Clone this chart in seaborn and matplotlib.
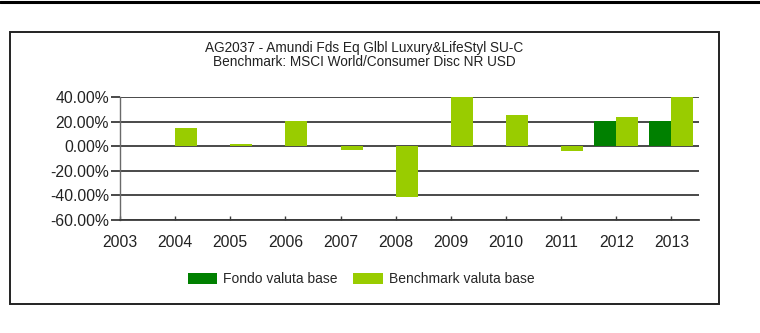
import numpy as np
import pandas as pd
import seaborn as sns
import matplotlib
matplotlib.use("Agg")
import matplotlib.pyplot as plt
from matplotlib.lines import Line2D
from matplotlib.patches import Rectangle

# Annual returns (%) per calendar year
years = ["2003", "2004", "2005", "2006", "2007", "2008",
         "2009", "2010", "2011", "2012", "2013"]
fondo = [np.nan, np.nan, np.nan, np.nan, np.nan, np.nan,
         np.nan, np.nan, np.nan, 20.3, 20.2]
benchmark = [np.nan, 15.0, 1.4, 20.3, -2.9, -41.3,
             39.9, 25.2, -4.3, 24.1, 39.9]

series_names = ["Fondo valuta base", "Benchmark valuta base"]
series_colors = ["#008000", "#99CC00"]
y_ticks = [-60, -40, -20, 0, 20, 40]
title_lines = ["AG2037 - Amundi Fds Eq Glbl Luxury&LifeStyl SU-C",
               "Benchmark: MSCI World/Consumer Disc NR USD"]

rows = []
for name, values in zip(series_names, [fondo, benchmark]):
    for yr, v in zip(years, values):
        if not np.isnan(v):
            rows.append({"anno": yr, "rendimento": v, "serie": name})
df = pd.DataFrame(rows)

sns.set_style("white")
plt.rcParams["font.family"] = ["Liberation Sans", "DejaVu Sans"]

W, H = 760, 333
fig = plt.figure(figsize=(W / 100, H / 100), dpi=100)
fig.patch.set_facecolor("white")

def fx(px):
    return px / W

def fy(py):
    return 1 - py / H

ax = fig.add_axes([fx(120), fy(220), fx(699) - fx(120), fy(97) - fy(220)])

sns.barplot(data=df, x="anno", y="rendimento", hue="serie",
            order=years, hue_order=series_names, palette=series_colors,
            width=0.8, dodge=True, errorbar=None, saturation=1,
            linewidth=0, ax=ax)

ax.set_xlim(0, 10.5)
ax.set_ylim(-60, 40)
ax.set_yticks(y_ticks)
ax.set_yticklabels([f"{v:.2f}%" for v in y_ticks])
ax.set_xlabel("")
ax.set_ylabel("")

ax.set_axisbelow(True)
ax.yaxis.grid(True, color="#3a3a3a", linewidth=1.3)
ax.xaxis.grid(False)
for side in ["top", "right"]:
    ax.spines[side].set_visible(False)
ax.spines["left"].set_color("#6a6a6a")
ax.spines["left"].set_linewidth(1.0)
ax.spines["bottom"].set_color("#3a3a3a")
ax.spines["bottom"].set_linewidth(1.3)

ax.tick_params(axis="y", direction="out", length=6.5, width=1.3,
               color="#3a3a3a", pad=1.5, labelsize=11.3, labelcolor="#222222",
               left=True)
ax.tick_params(axis="x", direction="in", length=3, width=1.0,
               color="#3a3a3a", pad=10.5, labelsize=11.3, labelcolor="#222222",
               bottom=True)

# Legend placed under the plot area
handles, labels = ax.get_legend_handles_labels()
if ax.get_legend() is not None:
    ax.get_legend().remove()
fig.legend(handles, labels, loc="center", ncol=2,
           bbox_to_anchor=(fx(361), fy(279)), frameon=False,
           fontsize=10, handlelength=2.1, handleheight=0.86,
           handletextpad=0.45, columnspacing=1.15, borderpad=0)

# Two-line chart title
fig.text(fx(364), fy(48), title_lines[0], ha="center", va="center",
         fontsize=9.8, color="#222222")
fig.text(fx(364), fy(62), title_lines[1], ha="center", va="center",
         fontsize=9.8, color="#222222")

# Outer panel border and page rule above it
fig.add_artist(Rectangle((fx(10), fy(304)), fx(719) - fx(10), fy(32) - fy(304),
                         transform=fig.transFigure, fill=False,
                         edgecolor="#222222", linewidth=1.4))
fig.add_artist(Line2D([0, 1], [fy(1.5), fy(1.5)], transform=fig.transFigure,
                      color="black", linewidth=2.2))

fig.savefig("out.png", dpi=100, facecolor="white")
